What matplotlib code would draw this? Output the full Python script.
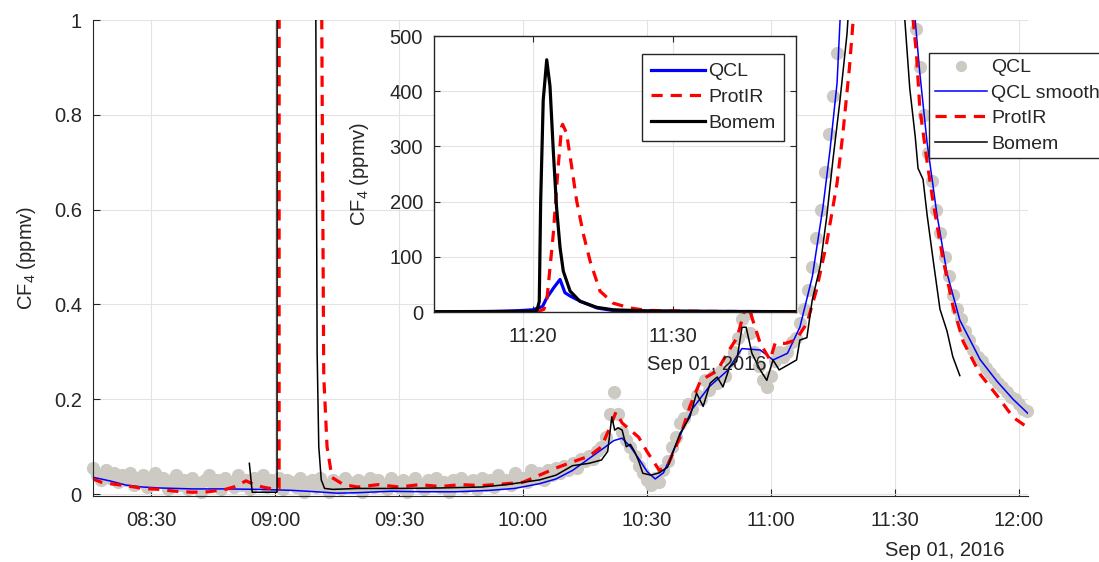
import numpy as np
import matplotlib
matplotlib.use("Agg")
import matplotlib.pyplot as plt
import matplotlib.dates as mdates

plt.rcParams['font.family'] = ['Liberation Sans', 'DejaVu Sans']
plt.rcParams['mathtext.default'] = 'regular'
plt.rcParams['text.color'] = '#262626'
plt.rcParams['axes.labelcolor'] = '#262626'
plt.rcParams['xtick.color'] = '#262626'
plt.rcParams['ytick.color'] = '#262626'

# times are minutes after 08:00 on 2016-09-01
# QCL raw points (grey), one per minute: 08:16-11:16 and 11:35-12:02
qcl_t = np.concatenate([np.arange(16, 197), np.arange(215, 243)])
qcl_v = [0.055, 0.04, 0.03, 0.05, 0.035, 0.045, 0.025, 0.04, 0.03, 0.045,
         0.02, 0.035, 0.04, 0.015, 0.03, 0.045, 0.025, 0.035, 0.01, 0.03,
         0.04, 0.02, 0.03, 0.01, 0.035, 0.025, 0.005, 0.03, 0.04, 0.02,
         0.03, 0.01, 0.035, 0.025, 0.015, 0.04, 0.02, 0.03, 0.01, 0.035,
         0.025, 0.04, 0.015, 0.03, 0.02, 0.035, 0.01, 0.03, 0.025, 0.015,
         0.035, 0.005, 0.025, 0.03, 0.015, 0.035, 0.02, 0.005, 0.03, 0.02,
         0.01, 0.035, 0.025, 0.015, 0.03, 0.005, 0.025, 0.035, 0.015, 0.03,
         0.02, 0.01, 0.035, 0.025, 0.015, 0.03, 0.005, 0.025, 0.035, 0.02,
         0.01, 0.03, 0.02, 0.035, 0.015, 0.025, 0.005, 0.03, 0.02, 0.035,
         0.015, 0.025, 0.03, 0.01, 0.035, 0.02, 0.03, 0.015, 0.04, 0.025,
         0.03, 0.02, 0.045, 0.03, 0.035, 0.025, 0.05, 0.035, 0.045, 0.03,
         0.05, 0.04, 0.055, 0.045, 0.06,
         0.05, 0.065, 0.055, 0.075, 0.07, 0.08, 0.075, 0.09, 0.1, 0.12,
         0.17, 0.215, 0.17, 0.13, 0.115, 0.1, 0.08, 0.06, 0.045, 0.03,
         0.02, 0.035, 0.025, 0.05, 0.07, 0.1, 0.12, 0.15, 0.16, 0.19,
         0.18, 0.21, 0.2, 0.24, 0.22, 0.25, 0.235, 0.26, 0.25, 0.28,
         0.3, 0.33, 0.37, 0.38, 0.34, 0.3, 0.27, 0.24, 0.225, 0.25,
         0.28, 0.3, 0.29, 0.3, 0.32, 0.33, 0.36, 0.39, 0.43, 0.48,
         0.54, 0.6, 0.68, 0.76, 0.84, 0.93,
         0.98, 0.9, 0.8, 0.72, 0.66, 0.6, 0.55, 0.5, 0.46, 0.42,
         0.39, 0.37, 0.345, 0.325, 0.305, 0.29, 0.28, 0.265, 0.255, 0.245,
         0.235, 0.225, 0.215, 0.205, 0.2, 0.19, 0.18, 0.175]

# QCL smooth (blue)
smooth_t = [15.7, 20, 24, 28, 32, 40, 48, 56, 64, 70, 75, 80, 88, 96, 104,
            112, 118, 124, 128, 132, 136, 140, 142, 144, 146, 148, 150, 152,
            154, 157.3, 161, 165, 169.4, 173, 177.4, 180.5, 184, 187, 190,
            192.6, 194.3, 196, 197, 198, 199, 200, 200.7, 201.0, 201.5,
            201.95, 202.3, 202.7, 203.4, 204.6, 205.8, 209, 212, 214.9, 216,
            217.8, 220.2, 222.6, 225.7, 230.6, 234.7, 238.6, 242.2]
smooth_v = [0.036, 0.028, 0.019, 0.015, 0.013, 0.011, 0.011, 0.010, 0.008,
            0.005, 0.002, 0.003, 0.006, 0.005, 0.005, 0.008, 0.012, 0.022,
            0.032, 0.05, 0.075, 0.10, 0.113, 0.118, 0.10, 0.075, 0.048, 0.032,
            0.045, 0.11, 0.18, 0.226, 0.26, 0.307, 0.304, 0.283, 0.297, 0.352,
            0.458, 0.606, 0.726, 0.867, 1.05, 1.6, 2.5, 4, 10, 25.5, 44,
            59, 35, 28.6, 19.5, 7.3, 2.4, 1.6, 1.25, 1.0, 0.89,
            0.74, 0.588, 0.466, 0.367, 0.284, 0.238, 0.2, 0.17]

# ProtIR (red dashed)
protir_t = [15.7, 18, 20, 24, 28, 32, 36, 40, 44, 48, 50, 53, 55, 57, 60, 61,
            61.4, 70.8, 71.0, 71.8, 72.6, 73.8, 76.6, 80, 85, 90, 95, 100,
            105, 110, 116, 120, 124, 128, 132, 136, 139, 141, 142.5, 144, 146,
            148, 150, 151.5, 153, 155, 158, 160.4, 163, 167, 169.4, 171.8,
            173.7, 174.5, 175.5, 177.4, 179.8, 181, 183.5, 186, 188.7, 191,
            193.5, 196, 197.4, 199, 199.9, 200.5, 200.8, 201.0, 201.48,
            201.83, 202.07, 202.14, 202.43, 202.79, 203.14, 203.62, 204.1,
            204.81, 205.76, 206.95, 208.14, 210.5, 212, 214.4, 215.2, 216,
            217.8, 219.2, 221.6, 224, 226.5, 230.6, 234.7, 238.6, 242.2]
protir_v = [0.033, 0.025, 0.022, 0.018, 0.012, 0.01, 0.006, 0.004, 0.005,
            0.01, 0.015, 0.028, 0.02, 0.015, 0.01, 0.012,
            30, 30, 1.5, 0.25, 0.1, 0.035, 0.02, 0.015, 0.02, 0.015, 0.02,
            0.016, 0.02, 0.018, 0.022, 0.025, 0.04, 0.055, 0.068, 0.08, 0.1,
            0.14, 0.173, 0.15, 0.135, 0.12, 0.09, 0.07, 0.05, 0.06, 0.12,
            0.185, 0.24, 0.26, 0.297, 0.33, 0.39, 0.40, 0.37, 0.318, 0.283,
            0.318, 0.318, 0.325, 0.36, 0.43, 0.53, 0.656, 0.76, 0.9, 1.0, 2,
            5, 19.5, 141, 263, 336, 340, 324, 263, 202, 141, 92, 38, 16, 7.3,
            3, 1.8, 1.3, 1.0, 0.93, 0.816, 0.70, 0.618, 0.497, 0.398, 0.322,
            0.253, 0.208, 0.162, 0.14]

# Bomem (black)
bomem_t = [53.8, 54.5, 60.5, 60.9, 69.6, 69.8, 70.2, 70.6, 71.2, 72, 74, 80,
           90, 100, 110, 116, 120, 124, 128, 132, 136, 139, 140.5, 141.5,
           142.2, 143, 144, 145, 146, 147, 148, 149, 151, 153, 155, 158,
           160.4, 162, 163.6, 165.3, 167, 168.4, 170, 171.7, 173, 174, 175.4,
           177.4, 179, 180.5, 182, 184.6, 186.2, 187, 188.7, 190, 191.9,
           193.5, 195, 196.7, 198.4, 199, 200, 200.3, 200.48, 200.57, 200.76,
           201.0, 201.24, 201.48, 201.71, 201.95, 202.19, 202.67, 203.38,
           204.57, 205.76, 208.14, 210.5, 212.4, 213.6, 214.9, 215.6, 216.8,
           217.8, 219.2, 220.9, 222.6, 224, 225.7]
bomem_v = [0.065, 0.004, 0.004, 30, 30, 1.2, 0.3, 0.1, 0.03, 0.012, 0.01,
           0.012, 0.012, 0.013, 0.015, 0.02, 0.025, 0.03, 0.04, 0.06, 0.065,
           0.072, 0.09, 0.163, 0.135, 0.14, 0.135, 0.1, 0.105, 0.09, 0.07,
           0.044, 0.04, 0.045, 0.057, 0.128, 0.163, 0.213, 0.185, 0.234,
           0.247, 0.226, 0.268, 0.28, 0.352, 0.352, 0.297, 0.262, 0.24, 0.283,
           0.262, 0.275, 0.283, 0.325, 0.33, 0.41, 0.48, 0.585, 0.705, 0.83,
           0.97, 1.05, 1.5, 3, 19, 200, 384, 457, 409, 293, 190, 117, 74, 38,
           19.5, 8.5, 4, 2.0, 1.4, 1.0, 0.855, 0.755, 0.687, 0.664, 0.588,
           0.497, 0.39, 0.344, 0.29, 0.25]

t0 = np.datetime64('2016-09-01T08:00:00')


def to_time(mins):
    return t0 + (np.asarray(mins, dtype=float) * 60).astype('timedelta64[s]')


grey = '#cdc9c3'
gridc = '#e3e3e3'

fig = plt.figure(figsize=(10.99, 5.62), dpi=100)

# main axes
ax = fig.add_axes([0.0846, 0.1174, 0.8508, 0.847])
ax.plot(to_time(qcl_t), qcl_v, 'o', color=grey, markersize=9.5,
        markeredgewidth=0, label='QCL', clip_on=False)
ax.plot(to_time(smooth_t), smooth_v, color='#0000ff', lw=1.1,
        label='QCL smooth')
ax.plot(to_time(protir_t), protir_v, color='#ff0000', lw=2.3,
        dashes=(3.5, 2.5), label='ProtIR')
ax.plot(to_time(bomem_t), bomem_v, color='black', lw=1.1, label='Bomem')

ax.set_xlim(to_time(15.97), to_time(242.2))
ax.set_ylim(-0.004, 1)
ax.set_yticks([0, 0.2, 0.4, 0.6, 0.8, 1])
ax.set_yticklabels(['0', '0.2', '0.4', '0.6', '0.8', '1'])
ax.xaxis.set_major_locator(mdates.MinuteLocator(byminute=[0, 30]))
ax.xaxis.set_major_formatter(mdates.DateFormatter('%H:%M'))
ax.grid(True, color=gridc, lw=0.8)
ax.set_axisbelow(True)
for s in ['top', 'right']:
    ax.spines[s].set_visible(False)
for s in ['left', 'bottom']:
    ax.spines[s].set_color('#262626')
ax.tick_params(direction='in', length=5, labelsize=14.5)
ax.tick_params(axis='x', pad=11)
ax.tick_params(axis='y', pad=8)
ax.set_ylabel('CF$_4$ (ppmv)', fontsize=14.5)
ax.yaxis.set_label_coords(-0.059, 0.5)
fig.text(945 / 1099, 1 - 550 / 562, 'Sep 01, 2016', ha='center',
         va='center', fontsize=14.5)

leg = ax.legend(loc='upper left', bbox_to_anchor=(929 / 1099, 1 - 53 / 562),
                bbox_transform=fig.transFigure, fontsize=14, frameon=True,
                fancybox=False, framealpha=1, edgecolor='#262626',
                handlelength=2.7, handletextpad=0.2, borderpad=0.3,
                labelspacing=0.4, borderaxespad=0, markerscale=0.85)
leg.get_frame().set_linewidth(1.0)

# inset axes
ins = fig.add_axes([0.3949, 0.4448, 0.3294, 0.4911])
ins.plot(to_time(smooth_t), smooth_v, color='#0000ff', lw=2.3, label='QCL')
ins.plot(to_time(protir_t), protir_v, color='#ff0000', lw=2.3,
         dashes=(3.5, 2.5), label='ProtIR')
ins.plot(to_time(bomem_t), bomem_v, color='black', lw=2.3, label='Bomem')
ins.set_xlim(to_time(192.95), to_time(218.8))
ins.set_ylim(0, 500)
ins.set_yticks([0, 100, 200, 300, 400, 500])
ins.xaxis.set_major_locator(mdates.MinuteLocator(byminute=[0, 10, 20, 30, 40, 50]))
ins.xaxis.set_major_formatter(mdates.DateFormatter('%H:%M'))
ins.grid(True, color=gridc, lw=0.8)
ins.set_axisbelow(True)
for s in ins.spines.values():
    s.set_color('#262626')
    s.set_linewidth(1.0)
ins.tick_params(direction='in', length=4, labelsize=14.5, top=True,
                right=True)
ins.tick_params(axis='x', pad=11)
ins.tick_params(axis='y', pad=8)
ins.set_ylabel('CF$_4$ (ppmv)', fontsize=14.5)
ins.yaxis.set_label_coords(-0.175, 0.5)
fig.text(707 / 1099, 1 - 365 / 562, 'Sep 01, 2016', ha='center',
         va='center', fontsize=14.5)

ileg = ins.legend(loc='upper left', bbox_to_anchor=(642 / 1099, 1 - 54 / 562),
                  bbox_transform=fig.transFigure, fontsize=14, frameon=True,
                  fancybox=False, framealpha=1, edgecolor='#262626',
                  handlelength=2.8, handletextpad=0.15, borderpad=0.45,
                  labelspacing=0.42, borderaxespad=0)
ileg.get_frame().set_linewidth(1.0)

fig.savefig('out.png', dpi=100)
